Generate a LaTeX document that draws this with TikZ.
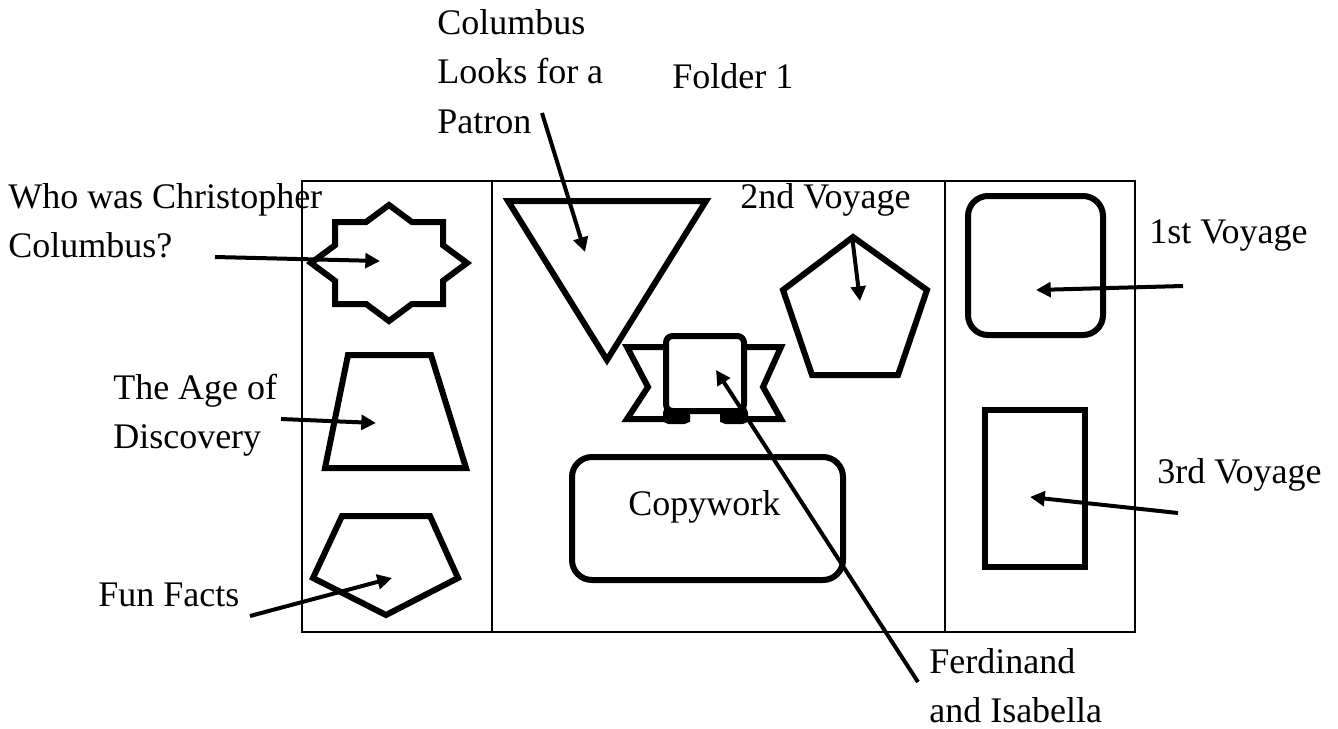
\documentclass[tikz,border=0pt]{standalone}
\usepackage{fontspec}
\setmainfont{Liberation Serif}
\usetikzlibrary{arrows.meta}
\newcommand\mylines[1]{\vtop{#1}}
\begin{document}
\begin{tikzpicture}[x=0.75pt,y=-0.75pt,
  frame/.style={line width=1.5pt},
  thickshape/.style={line width=4.5pt,line join=miter,fill=white},
  pointer/.style={line width=3pt,-{Triangle[length=11pt,width=11pt]}},
  lbl/.style={inner sep=0pt,anchor=base west,font=\fontsize{27}{37.3}\selectfont}]
\useasboundingbox (0,0) rectangle (1338,728);
% frame
\draw[frame] (302,181) rectangle (1135,632);
\draw[frame] (492,181) -- (492,632);
\draw[frame] (945,181) -- (945,632);
% star
\draw[thickshape] (389,205) -- (411.9,222) -- (443,222) -- (443,245.2) -- (467,263) -- (443,280.8) -- (443,304) -- (411.9,304) -- (389,321) -- (366.1,304) -- (335,304) -- (335,280.8) -- (311,263) -- (335,245.2) -- (335,222) -- (366.1,222) -- cycle;
% trapezoid
\draw[thickshape] (348,355) -- (431,355) -- (466,468) -- (325,468) -- cycle;
% pentagon left
\draw[thickshape] (342,516) -- (430,516) -- (458,578) -- (386,615) -- (313,578) -- cycle;
% inverted triangle
\draw[thickshape] (508,201) -- (706,201) -- (607,360) -- cycle;
% pentagon right
\draw[thickshape] (853,237) -- (927,290) -- (898,375) -- (812,375) -- (783,290) -- cycle;
% banner
\draw[thickshape] (666,347) -- (627,347) -- (648,387) -- (627,419) -- (690,419);
\draw[thickshape] (744,347) -- (781,347) -- (763,387) -- (781,419) -- (720,419);
\fill[rounded corners=4pt] (663,407) rectangle (690,424);
\fill[rounded corners=4pt] (720,407) rectangle (748,424);
\draw[thickshape,rounded corners=5pt] (666,336) rectangle (744,411);
% copywork box
\draw[thickshape,rounded corners=15pt] (572,457) rectangle (843,580);
% 1st voyage box
\draw[thickshape,rounded corners=15pt] (968,196) rectangle (1103,335);
% 3rd voyage box
\draw[thickshape] (985,410) rectangle (1085,567);
% labels
\node[lbl] (who) at (8,208) {\mylines{\hbox{Who was Christopher}\hbox{Columbus?}}};
\node[lbl] (age) at (113,399) {\mylines{\hbox{The Age of}\hbox{Discovery}}};
\node[lbl] (fun) at (98,606) {Fun Facts};
\node[lbl] (patron) at (437,34) {\mylines{\hbox{Columbus}\hbox{Looks for a}\hbox{Patron}}};
\node[lbl] (folder) at (672,88) {Folder 1};
\node[lbl] (second) at (740,208) {2nd Voyage};
\node[lbl] (first) at (1149,243) {1st Voyage};
\node[lbl] (third) at (1157,483) {3rd Voyage};
\node[lbl] (ferd) at (929,673) {\mylines{\hbox{Ferdinand}\hbox{and Isabella}}};
\node[lbl] (copy) at (628,515) {Copywork};
% arrow ends
\coordinate (whoS) at (215,257);   \coordinate (whoT) at (380,261);
\coordinate (ageS) at (281,419);   \coordinate (ageT) at (376,423);
\coordinate (funS) at (250,616);   \coordinate (funT) at (392,578);
\coordinate (patS) at (542,113);   \coordinate (patT) at (585,252);
\coordinate (secS) at (852,236);   \coordinate (secT) at (860,301);
\coordinate (firS) at (1183,286);  \coordinate (firT) at (1036,290);
\coordinate (thiS) at (1178,513);  \coordinate (thiT) at (1030,497);
\coordinate (ferS) at (918,682);   \coordinate (ferT) at (716,370);
\draw[pointer] (whoS) -- (whoT);
\draw[pointer] (ageS) -- (ageT);
\draw[pointer] (funS) -- (funT);
\draw[pointer] (patS) -- (patT);
\draw[pointer] (secS) -- (secT);
\draw[pointer] (firS) -- (firT);
\draw[pointer] (thiS) -- (thiT);
\draw[pointer] (ferS) -- (ferT);
\end{tikzpicture}
\end{document}
